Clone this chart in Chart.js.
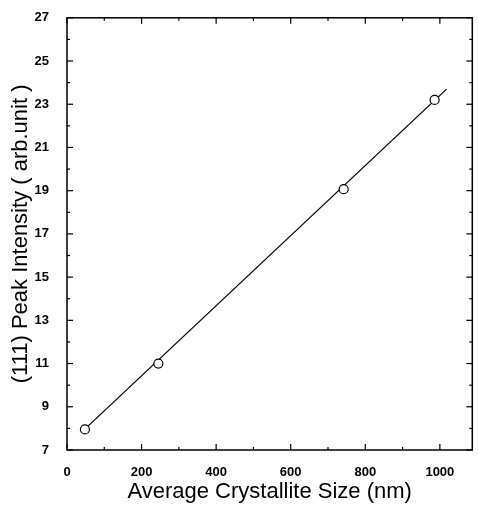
<!DOCTYPE html>
<html>
<head>
<meta charset="utf-8">
<script src="https://cdn.jsdelivr.net/npm/chart.js@4/dist/chart.umd.min.js"></script>
<style>
  body { margin: 0; background: #fff; }
  #wrap { width: 478px; height: 510px; }
</style>
</head>
<body>
<div id="wrap"><canvas id="chart"></canvas></div>
<script>
// measured points
const sizes = [48, 245, 742, 986];
const intensity = [7.95, 11.0, 19.07, 23.2];
// straight fit line drawn through them
const fitX = [50, 1018];
const fitY = [8.0, 23.7];
// tick positions
const xMajor = [0, 200, 400, 600, 800, 1000];
const xMinor = [100, 300, 500, 700, 900];
const yMajor = [7, 9, 11, 13, 15, 17, 19, 21, 23, 25, 27];
const yMinor = [8, 10, 12, 14, 16, 18, 20, 22, 24, 26];

const FONT = "'Liberation Sans', Arial, sans-serif";

// frame + inward ticks on all four sides
const frameTicks = {
  id: 'frameTicks',
  afterDraw(chart) {
    const { ctx, chartArea: a, scales: { x, y } } = chart;
    ctx.save();
    ctx.strokeStyle = '#000';
    ctx.lineWidth = 1.5;
    ctx.strokeRect(a.left, a.top, a.right - a.left, a.bottom - a.top);
    ctx.lineWidth = 1.2;
    const tick = (x1, y1, x2, y2) => {
      ctx.beginPath(); ctx.moveTo(x1, y1); ctx.lineTo(x2, y2); ctx.stroke();
    };
    xMajor.forEach(v => {
      const px = x.getPixelForValue(v);
      tick(px, a.bottom, px, a.bottom - 6);
      tick(px, a.top, px, a.top + 6);
    });
    xMinor.forEach(v => {
      const px = x.getPixelForValue(v);
      tick(px, a.bottom, px, a.bottom - 3);
      tick(px, a.top, px, a.top + 3);
    });
    yMajor.forEach(v => {
      const py = y.getPixelForValue(v);
      tick(a.left, py, a.left + 6, py);
      tick(a.right, py, a.right - 6, py);
    });
    yMinor.forEach(v => {
      const py = y.getPixelForValue(v);
      tick(a.left, py, a.left + 3, py);
      tick(a.right, py, a.right - 3, py);
    });
    ctx.restore();
  }
};

new Chart(document.getElementById('chart'), {
  type: 'scatter',
  data: {
    datasets: [
      {
        data: sizes.map((s, i) => ({ x: s, y: intensity[i] })),
        pointStyle: 'circle',
        pointRadius: 4.5,
        pointBackgroundColor: '#fff',
        pointBorderColor: '#000',
        pointBorderWidth: 1.2,
        showLine: false
      },
      {
        data: fitX.map((s, i) => ({ x: s, y: fitY[i] })),
        showLine: true,
        borderColor: '#000',
        borderWidth: 1.3,
        pointRadius: 0
      }
    ]
  },
  options: {
    responsive: true,
    maintainAspectRatio: false,
    animation: false,
    layout: { padding: { left: 0, right: 1, top: 11, bottom: 0 } },
    plugins: { legend: { display: false }, tooltip: { enabled: false } },
    scales: {
      x: {
        type: 'linear',
        min: 0,
        max: 1087,
        grid: { display: false },
        border: { display: false },
        afterBuildTicks: s => { s.ticks = xMajor.map(v => ({ value: v })); },
        afterFit: s => { s.height = 60; },
        ticks: {
          color: '#000',
          padding: 7,
          maxRotation: 0,
          callback: v => String(v),
          font: { family: FONT, size: 13, weight: 'bold' }
        },
        title: {
          display: true,
          text: 'Average Crystallite Size (nm)',
          color: '#000',
          padding: { top: 0, bottom: 5 },
          font: { family: FONT, size: 22 }
        }
      },
      y: {
        type: 'linear',
        min: 7,
        max: 27,
        grid: { display: false },
        border: { display: false },
        afterBuildTicks: s => { s.ticks = yMajor.map(v => ({ value: v })); },
        afterFit: s => { s.width = 67; },
        ticks: {
          color: '#000',
          padding: 10,
          callback: v => String(v),
          font: { family: FONT, size: 13, weight: 'bold' }
        },
        title: {
          display: true,
          text: '(111) Peak Intensity ( arb.unit )',
          color: '#000',
          padding: { top: 8, bottom: 0 },
          font: { family: FONT, size: 22 }
        }
      }
    }
  },
  plugins: [frameTicks]
});
</script>
</body>
</html>
